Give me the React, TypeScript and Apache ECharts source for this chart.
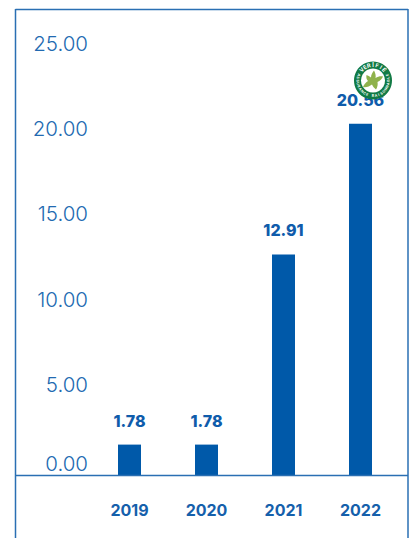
import React, { useEffect, useRef } from "react";
import * as echarts from "echarts";

const years = ["2019", "2020", "2021", "2022"];
const values = [1.78, 1.78, 12.91, 20.56];

const WIDTH = 409;
const HEIGHT = 538;
const BLUE = "#0059a9";
const FRAME = "#2a6fb3";
const FONT = "Inter, 'Open Sans', sans-serif";

const SEAL_X = 373;
const SEAL_Y = 80.5;
const SEAL_GREEN = "#117a45";
const LEAF_GREEN = "#8fb24c";
const sealTop = "VERIFIÉ";
const sealBottom = "ASSURANCE RAISONNABLE";

echarts.graphic.registerShape(
  "sealLeaf",
  echarts.graphic.extendPath(
    "M1 -10 C2.5 -7 3 -5 2.5 -2.5 C5 -4 7.5 -4.5 10 -4 C9 -1.5 7 0.5 4.5 1.5 C5 4 4.5 6.5 3 9 C1 7.5 0 6 -1 4 C-3.5 6 -6.5 7 -10 6.5 C-9 4 -7.5 2 -5 0.5 C-6.5 -1 -7 -3 -6.5 -5.5 C-5 -5 -3.5 -4 -2 -3 C-2 -6 -0.5 -8 1 -10 Z",
    {}
  )
);

// Places each character of a caption on the seal's circular band.
function arcLetters(text: string, radius: number, centre: number, step: number, flip: boolean) {
  return text.split("").map((ch, i) => {
    const offset = (i - (text.length - 1) / 2) * step;
    const angle = centre + (flip ? -offset : offset);
    return {
      type: "text",
      x: SEAL_X + radius * Math.sin(angle),
      y: SEAL_Y - radius * Math.cos(angle),
      rotation: flip ? -angle + Math.PI : -angle,
      z: 23,
      style: {
        text: ch,
        fill: "#ffffff",
        font: `bold ${flip ? 3.5 : 5.6}px ${FONT}`,
        textAlign: "center",
        textVerticalAlign: "middle",
      },
    };
  });
}

export default function App() {
  const ref = useRef<HTMLDivElement>(null);

  useEffect(() => {
    document.body.style.margin = "0";
    document.body.style.background = "#ffffff";
    const chart = echarts.init(ref.current!, undefined, { renderer: "svg" });
    const frameLine = (x1: number, y1: number, x2: number, y2: number, color = FRAME) => ({
      type: "line",
      z: 5,
      shape: { x1, y1, x2, y2 },
      style: { stroke: color, lineWidth: 1.5 },
    });
    const tickStyle = {
      color: "#226ab1",
      fontFamily: FONT,
      fontWeight: 300,
      fontSize: 20.5,
    };
    chart.setOption({
      animation: false,
      backgroundColor: "#ffffff",
      grid: { left: 91, right: 10, top: 48, bottom: 63, containLabel: false },
      xAxis: {
        type: "category",
        data: years,
        axisLine: { show: false },
        axisTick: { show: false },
        axisLabel: {
          color: "#1560ab",
          fontFamily: FONT,
          fontWeight: 700,
          fontSize: 16,
          margin: 27,
        },
      },
      yAxis: {
        type: "value",
        min: 0,
        max: 25,
        interval: 5,
        splitLine: { show: false },
        axisLine: { show: false },
        axisTick: { show: false },
        axisLabel: {
          margin: 3,
          formatter: (v: number) =>
            v === 0 ? `{zero|${v.toFixed(2)}}` : `{tick|${v.toFixed(2)}}`,
          rich: {
            tick: { ...tickStyle, padding: [0, 0, 10, 0] },
            zero: { ...tickStyle, padding: [0, 0, 24, 0] },
          },
        },
      },
      series: [
        {
          type: "bar",
          data: values,
          barWidth: 23,
          itemStyle: { color: BLUE },
          label: {
            show: true,
            position: "top",
            distance: 16,
            color: "#0f5cab",
            fontFamily: FONT,
            fontWeight: 800,
            fontSize: 16,
            formatter: (p: { value: number }) => p.value.toFixed(2),
          },
        },
      ],
      graphic: [
        frameLine(15.5, 9.5, 408, 9.5),
        frameLine(15.5, 9, 15.5, HEIGHT),
        frameLine(408, 9, 408, HEIGHT),
        frameLine(15, 475.5, 408, 475.5),
        {
          type: "circle",
          z: 20,
          shape: { cx: SEAL_X, cy: SEAL_Y, r: 19 },
          style: { fill: SEAL_GREEN },
        },
        {
          type: "circle",
          z: 21,
          shape: { cx: SEAL_X, cy: SEAL_Y, r: 12 },
          style: { fill: "#ffffff" },
        },
        {
          type: "sealLeaf",
          z: 22,
          x: SEAL_X,
          y: SEAL_Y,
          style: { fill: LEAF_GREEN },
        },
        ...arcLetters(sealTop, 15.5, 0, 0.27, false),
        ...arcLetters(sealBottom, 15.5, Math.PI, 0.195, true),
      ],
    });
    return () => chart.dispose();
  }, []);

  return <div ref={ref} style={{ position: "absolute", left: 0, top: 0, width: WIDTH, height: HEIGHT }} />;
}
